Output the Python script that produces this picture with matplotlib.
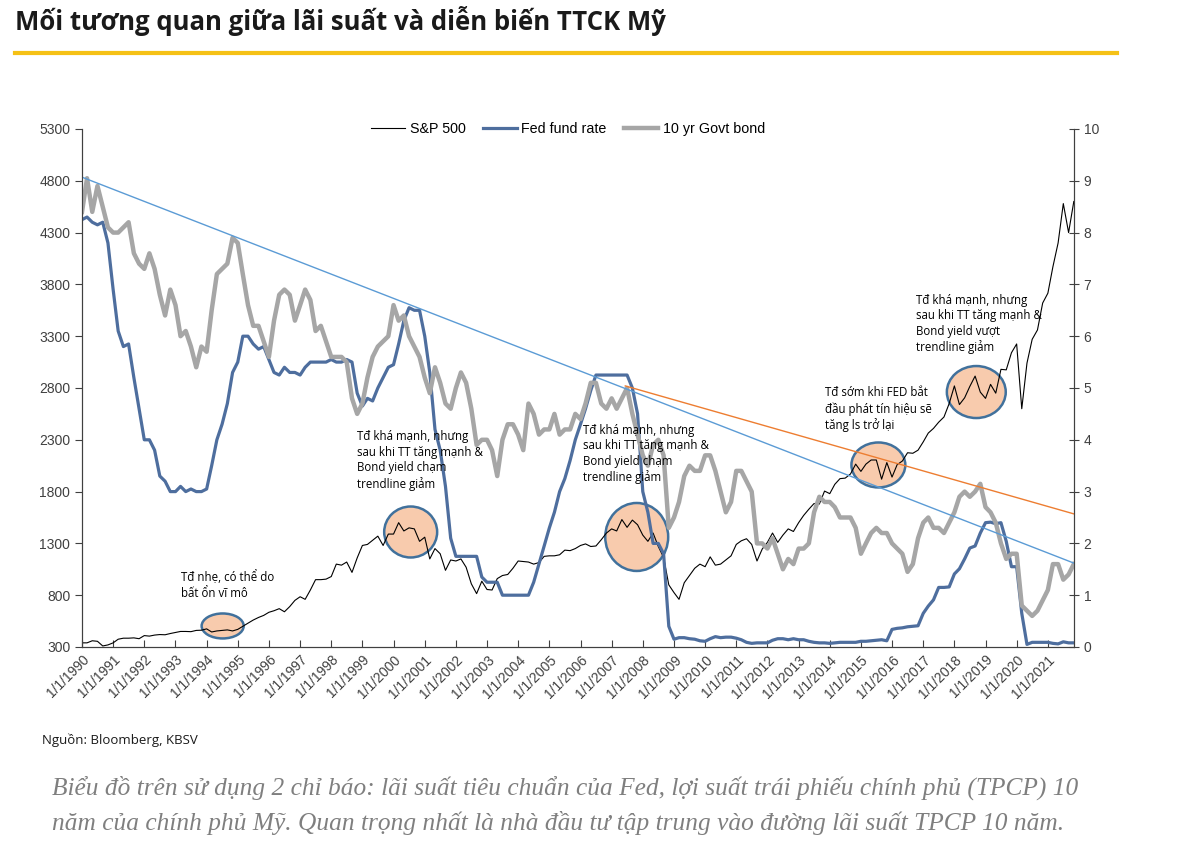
import numpy as np
import pandas as pd
import matplotlib.pyplot as plt
import matplotlib.dates as mdates
from matplotlib.patches import Ellipse
from matplotlib.lines import Line2D

# bi-monthly observations: Jan, Mar, May, Jul, Sep, Nov of each year 1990-2021
dates = pd.date_range('1990-01-01', '2021-11-01', freq='2MS')

sp500 = [
    340, 340, 360, 355, 310, 320,
    340, 375, 385, 385, 388, 380,
    410, 405, 415, 420, 418, 430,
    440, 450, 450, 448, 460, 462,
    475, 445, 455, 460, 465, 455,
    470, 500, 530, 560, 585, 605,
    635, 650, 670, 640, 690, 750,
    785, 760, 850, 950, 950, 955,
    980, 1100, 1090, 1120, 1020, 1160,
    1280, 1290, 1330, 1370, 1280, 1390,
    1390, 1500, 1420, 1450, 1440, 1320,
    1360, 1150, 1250, 1200, 1040, 1140,
    1130, 1150, 1070, 910, 815, 935,
    855, 850, 960, 990, 1000, 1060,
    1130, 1125, 1120, 1100, 1115, 1175,
    1180, 1180, 1190, 1235, 1230, 1250,
    1280, 1295, 1270, 1275, 1335, 1400,
    1440, 1420, 1530, 1455, 1525, 1480,
    1380, 1320, 1400, 1270, 1165, 900,
    825, 760, 920, 990, 1060, 1100,
    1075, 1170, 1090, 1100, 1140, 1180,
    1290, 1325, 1345, 1290, 1130, 1245,
    1310, 1400, 1310, 1380, 1440, 1415,
    1500, 1570, 1630, 1685, 1680, 1805,
    1780, 1870, 1925, 1930, 1970, 2065,
    1995, 2065, 2105, 2105, 1920, 2080,
    1940, 2060, 2095, 2175, 2170, 2200,
    2280, 2365, 2410, 2470, 2520, 2650,
    2820, 2640, 2705, 2815, 2915, 2760,
    2700, 2835, 2750, 2980, 2975, 3140,
    3225, 2600, 3040, 3270, 3360, 3620,
    3715, 3970, 4200, 4580, 4300, 4600,
]

fed_rate = [
    8.25, 8.30, 8.20, 8.15, 8.20, 7.80,
    6.90, 6.10, 5.80, 5.85, 5.20, 4.60,
    4.00, 4.00, 3.80, 3.30, 3.20, 3.00,
    3.00, 3.10, 3.00, 3.05, 3.00, 3.00,
    3.05, 3.50, 4.00, 4.30, 4.70, 5.30,
    5.50, 6.00, 6.00, 5.85, 5.75, 5.80,
    5.55, 5.30, 5.25, 5.40, 5.30, 5.30,
    5.25, 5.40, 5.50, 5.50, 5.50, 5.50,
    5.55, 5.50, 5.50, 5.55, 5.50, 4.90,
    4.65, 4.80, 4.75, 5.00, 5.20, 5.40,
    5.45, 5.85, 6.30, 6.55, 6.50, 6.50,
    6.00, 5.30, 4.20, 3.80, 3.10, 2.10,
    1.75, 1.75, 1.75, 1.75, 1.75, 1.35,
    1.25, 1.25, 1.25, 1.00, 1.00, 1.00,
    1.00, 1.00, 1.00, 1.25, 1.60, 1.95,
    2.30, 2.60, 3.00, 3.25, 3.60, 4.00,
    4.30, 4.60, 4.95, 5.25, 5.25, 5.25,
    5.25, 5.25, 5.25, 5.25, 5.00, 4.50,
    3.00, 2.60, 2.00, 2.00, 1.80, 0.40,
    0.15, 0.18, 0.18, 0.16, 0.15, 0.12,
    0.11, 0.16, 0.20, 0.18, 0.19, 0.19,
    0.17, 0.14, 0.09, 0.07, 0.08, 0.08,
    0.08, 0.13, 0.16, 0.16, 0.14, 0.16,
    0.14, 0.14, 0.11, 0.09, 0.08, 0.08,
    0.07, 0.08, 0.09, 0.09, 0.09, 0.09,
    0.11, 0.11, 0.12, 0.13, 0.14, 0.12,
    0.34, 0.36, 0.37, 0.39, 0.40, 0.41,
    0.65, 0.79, 0.91, 1.15, 1.15, 1.16,
    1.41, 1.51, 1.70, 1.91, 1.95, 2.20,
    2.40, 2.41, 2.38, 2.40, 2.04, 1.55,
    1.55, 0.65, 0.05, 0.09, 0.09, 0.09,
    0.09, 0.07, 0.06, 0.10, 0.08, 0.08,
]

bond_10y = [
    8.40, 9.05, 8.40, 8.90, 8.50, 8.10,
    8.00, 8.00, 8.10, 8.20, 7.60, 7.40,
    7.30, 7.60, 7.30, 6.80, 6.40, 6.90,
    6.60, 6.00, 6.10, 5.80, 5.40, 5.80,
    5.70, 6.50, 7.20, 7.30, 7.40, 7.90,
    7.80, 7.20, 6.60, 6.20, 6.20, 5.90,
    5.60, 6.30, 6.80, 6.90, 6.80, 6.30,
    6.60, 6.90, 6.70, 6.10, 6.20, 5.90,
    5.60, 5.60, 5.60, 5.50, 4.80, 4.50,
    4.70, 5.20, 5.60, 5.80, 5.90, 6.00,
    6.60, 6.30, 6.40, 6.00, 5.80, 5.60,
    5.20, 4.90, 5.40, 5.10, 4.70, 4.60,
    5.00, 5.30, 5.10, 4.60, 3.90, 4.00,
    4.00, 3.80, 3.30, 4.00, 4.30, 4.30,
    4.10, 3.80, 4.70, 4.50, 4.10, 4.20,
    4.20, 4.50, 4.10, 4.20, 4.20, 4.50,
    4.40, 4.70, 5.10, 5.10, 4.70, 4.60,
    4.80, 4.60, 4.80, 5.00, 4.50, 4.10,
    3.70, 3.50, 3.90, 4.00, 3.70, 2.30,
    2.50, 2.80, 3.30, 3.50, 3.40, 3.40,
    3.70, 3.70, 3.40, 3.00, 2.60, 2.80,
    3.40, 3.40, 3.20, 3.00, 2.00, 2.00,
    1.90, 2.10, 1.80, 1.50, 1.70, 1.60,
    1.90, 1.90, 2.00, 2.60, 2.90, 2.80,
    2.80, 2.70, 2.50, 2.50, 2.50, 2.30,
    1.80, 2.00, 2.20, 2.30, 2.20, 2.20,
    2.00, 1.90, 1.80, 1.45, 1.60, 2.10,
    2.40, 2.50, 2.30, 2.30, 2.20, 2.40,
    2.60, 2.90, 3.00, 2.90, 3.00, 3.15,
    2.70, 2.60, 2.40, 2.00, 1.70, 1.80,
    1.80, 0.80, 0.70, 0.60, 0.70, 0.90,
    1.10, 1.60, 1.60, 1.30, 1.40, 1.60,
]

tick_years = list(range(1990, 2022))
tick_labels = ['1/1/%d' % y for y in tick_years]

# hand-drawn trendlines on the rate axis
trend_blue_dates = ['1990-01-01', '2021-11-01']
trend_blue_vals = [9.07, 1.62]
trend_orange_dates = ['2007-06-10', '2021-11-01']
trend_orange_vals = [5.04, 2.57]

# highlighted zones on the S&P axis (centre date, level, width in years, height in points)
zone_dates = ['1994-07-08', '2000-07-20', '2007-10-22', '2015-07-25', '2018-09-15']
zone_levels = [503, 1410, 1362, 2057, 2761]
zone_widths = [1.35, 1.70, 2.02, 1.73, 1.89]
zone_heights = [241, 492, 656, 434, 502]

notes = [
    'Tđ nhẹ, có thể do\nbất ổn vĩ mô',
    'Tđ khá mạnh, nhưng\nsau khi TT tăng mạnh &\nBond yield chạm\ntrendline giảm',
    'Tđ khá mạnh, nhưng\nsau khi TT tăng mạnh &\nBond yield chạm\ntrendline giảm',
    'Tđ sớm khi FED bắt\nđầu phát tín hiệu sẽ\ntăng ls trở lại',
    'Tđ khá mạnh, nhưng\nsau khi TT tăng mạnh &\nBond yield vượt\ntrendline giảm',
]
note_dates = ['1993-03-05', '1998-10-25', '2006-01-25', '2013-11-10', '2016-10-05']
note_levels = [1040, 2390, 2455, 2815, 3710]

SANS = ['Liberation Sans', 'DejaVu Sans']
NOTE = ['Open Sans', 'DejaVu Sans']
SERIF = ['Liberation Serif', 'DejaVu Serif']

fig = plt.figure(figsize=(11.8, 8.42), dpi=100)
ax = fig.add_axes([0.0695, 0.2316, 0.8405, 0.6152])
ax2 = ax.twinx()

for i in range(len(zone_dates)):
    c = mdates.date2num(pd.Timestamp(zone_dates[i]))
    ax.add_patch(Ellipse((c, zone_levels[i]), zone_widths[i] * 365.25, zone_heights[i],
                         facecolor='#f8cbad', edgecolor='#41719c', lw=1.8, zorder=1))

ax.plot(dates, sp500, color='black', lw=0.8, zorder=3)
ax2.plot(dates, fed_rate, color='#4e6e9e', lw=2.3)
ax2.plot(dates, bond_10y, color='#a6a6a6', lw=3.2)
ax2.plot(pd.to_datetime(trend_blue_dates), trend_blue_vals, color='#5b9bd5', lw=1)
ax2.plot(pd.to_datetime(trend_orange_dates), trend_orange_vals, color='#ed7d31', lw=1)

for txt, d, lv in zip(notes, note_dates, note_levels):
    ax2.text(pd.Timestamp(d), (lv - 300) / 500.0, txt, va='top', ha='left',
             fontsize=8.3, family=NOTE, linespacing=1.25, zorder=5)

ax.set_ylim(300, 5300)
ax.set_yticks(np.arange(300, 5301, 500))
ax2.set_ylim(0, 10)
ax2.set_yticks(range(0, 11))
ax.set_xlim(pd.Timestamp('1990-01-01'), pd.Timestamp('2021-11-01'))
ax.set_xticks(pd.to_datetime(['%d-01-01' % y for y in tick_years]))
ax.set_xticklabels(tick_labels, rotation=45, ha='right', rotation_mode='anchor')

for a in (ax, ax2):
    a.spines['top'].set_visible(False)
    for s in a.spines.values():
        s.set_color('#404040')
ax.tick_params(axis='y', direction='out', length=5, labelsize=10, colors='#404040')
ax2.tick_params(axis='y', direction='inout', length=7, labelsize=10, colors='#404040')
ax.tick_params(axis='x', direction='in', length=5, labelsize=10, colors='#404040', pad=4)
for lab in ax.get_xticklabels() + ax.get_yticklabels() + ax2.get_yticklabels():
    lab.set_family(SANS)
    lab.set_color('#404040')

handles = [Line2D([], [], color='black', lw=0.8),
           Line2D([], [], color='#4e6e9e', lw=2.3),
           Line2D([], [], color='#a6a6a6', lw=3.2)]
ax2.legend(handles, ['S&P 500', 'Fed fund rate', '10 yr Govt bond'],
           loc='center', bbox_to_anchor=(0.49, 1.0), ncol=3, frameon=False,
           prop={'family': SANS, 'size': 10.3}, handlelength=2.4,
           handletextpad=0.3, columnspacing=1.2)

fig.text(0.0127, 0.975, 'Mối tương quan giữa lãi suất và diễn biến TTCK Mỹ',
         fontsize=18.5, fontweight='bold', family=['Open Sans', 'DejaVu Sans'],
         va='center', ha='left', color='#1a1a1a')
fig.add_artist(Line2D([0.0127, 0.947], [0.937, 0.937], color='#f5c116', lw=3))

fig.text(0.0356, 0.121, 'Nguồn: Bloomberg, KBSV', fontsize=9.5, family=NOTE,
         va='center', ha='left', color='#1a1a1a')
fig.text(0.044, 0.064,
         'Biểu đồ trên sử dụng 2 chỉ báo: lãi suất tiêu chuẩn của Fed, lợi suất trái phiếu chính phủ (TPCP) 10',
         fontsize=18.3, style='italic', family=SERIF,
         va='center', ha='left', color='#7f7f7f')
fig.text(0.044, 0.0226,
         'năm của chính phủ Mỹ. Quan trọng nhất là nhà đầu tư tập trung vào đường lãi suất TPCP 10 năm.',
         fontsize=18.3, style='italic', family=SERIF,
         va='center', ha='left', color='#7f7f7f')

fig.savefig('out.png', dpi=100)
